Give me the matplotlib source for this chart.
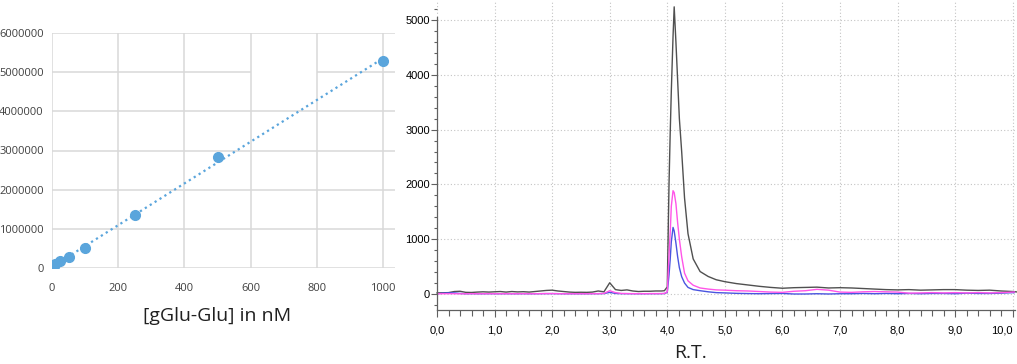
import numpy as np
import matplotlib
matplotlib.use("Agg")
import matplotlib.pyplot as plt
from matplotlib.ticker import MultipleLocator, FuncFormatter

# calibration curve
conc = [0, 1, 5, 10, 25, 50, 100, 250, 500, 1000]
area = [0, 15000, 40000, 100000, 190000, 290000, 510000, 1360000, 2830000, 5290000]

# chromatogram (retention time in min)
rt = [0.0, 0.1, 0.2, 0.3, 0.4, 0.5, 0.6, 0.7, 0.8, 0.9,
      1.0, 1.1, 1.2, 1.3, 1.4, 1.5, 1.6, 1.7, 1.8, 1.9,
      2.0, 2.1, 2.2, 2.3, 2.4, 2.5, 2.6, 2.7, 2.8, 2.9,
      3.0, 3.1, 3.2, 3.3, 3.4, 3.5, 3.6, 3.7, 3.8, 3.9,
      3.95, 4.0, 4.03, 4.05, 4.07, 4.10, 4.12, 4.15, 4.18, 4.21,
      4.25, 4.30, 4.36, 4.45, 4.57, 4.71, 4.85, 5.0,
      5.2, 5.4, 5.6, 5.8, 6.0, 6.2, 6.4, 6.6, 6.8, 7.0,
      7.2, 7.4, 7.6, 7.8, 8.0, 8.2, 8.4, 8.6, 8.8, 9.0,
      9.2, 9.4, 9.6, 9.8, 10.0, 10.1]
trace_black = [20, 22, 25, 45, 50, 30, 28, 35, 40, 35,
               40, 45, 35, 45, 38, 42, 35, 45, 55, 65,
               70, 55, 45, 35, 30, 32, 30, 35, 55, 40,
               205, 80, 65, 75, 55, 45, 50, 50, 55, 55,
               60, 130, 2000, 2900, 3700, 4700, 5240, 4600, 3900, 3200,
               2600, 1750, 1100, 640, 410, 320, 260, 225,
               190, 165, 140, 120, 105, 115, 120, 125, 110, 115,
               110, 100, 90, 80, 75, 80, 70, 75, 80, 80,
               70, 65, 70, 55, 45, 35]
trace_pink = [5, 5, 6, 5, 4, 5, 6, 5, 5, 6,
              5, 5, 6, 5, 5, 6, 5, 5, 6, 8,
              8, 6, 5, 5, 5, 5, 5, 6, 6, 10,
              60, 25, 10, 8, 6, 6, 6, 7, 7, 8,
              10, 40, 700, 1100, 1600, 1885, 1850, 1650, 1300, 1000,
              680, 380, 240, 160, 110, 90, 75, 70,
              60, 55, 45, 35, 30, 50, 60, 85, 70, 35,
              30, 40, 45, 40, 35, 15, 20, 25, 20, 25,
              20, 25, 20, 25, 35, 40]
trace_blue = [5, 15, 20, 20, 10, 5, 6, 5, 5, 6,
              5, 5, 6, 5, 5, 6, 5, 5, 6, 7,
              7, 6, 5, 5, 5, 5, 5, 6, 6, 8,
              30, 10, 6, 6, 5, 5, 5, 6, 6, 6,
              8, 30, 350, 620, 950, 1215, 1150, 930, 680, 480,
              316, 200, 120, 80, 60, 40, 25, 20,
              12, 8, 5, 8, 10, 0, 0, 5, 0, 5,
              5, 10, 5, 10, 5, 10, 5, 10, 10, 5,
              15, 10, 10, 15, 25, 30]
rt_ticks = [0, 1, 2, 3, 4, 5, 6, 7, 8, 9, 10]

W, H = 1017, 364
fig = plt.figure(figsize=(W / 100, H / 100), dpi=100)
sans = ["Open Sans", "DejaVu Sans"]
narrow = ["Liberation Sans Narrow", "DejaVu Sans Condensed", "Liberation Sans"]

# ---- left: calibration curve
ax1 = fig.add_axes([52 / W, 1 - 268 / H, (395 - 52) / W, (268 - 33) / H])
xmax1 = 1036
ax1.set_xlim(0, xmax1)
ax1.set_ylim(0, 6000000)
gcol = "#d9d9d9"
for yv in range(0, 6000001, 1000000):
    if yv == 5000000:
        # gap where the legend box was
        ax1.hlines(yv, 0, 600, color=gcol, lw=1.1, zorder=0)
        ax1.hlines(yv, 800, xmax1, color=gcol, lw=1.1, zorder=0)
    else:
        ax1.hlines(yv, 0, xmax1, color=gcol, lw=1.1, zorder=0)
for xv in range(0, 1001, 200):
    ax1.vlines(xv, 0, 6000000, color=gcol, lw=1.1, zorder=0)

blue_xl = "#5aa5dc"
fit = np.polyfit(conc, area, 1)
ax1.plot([0, 1000], np.polyval(fit, [0, 1000]), ls=(0, (1, 1.6)),
         color=blue_xl, lw=1.6, zorder=2)
ax1.plot(conc, area, "o", color=blue_xl, ms=7, zorder=3)

for s in ax1.spines.values():
    s.set_visible(False)
ax1.set_xticks(range(0, 1001, 200))
ax1.set_yticks(range(0, 6000001, 1000000))
ax1.yaxis.set_major_formatter(FuncFormatter(lambda v, p: f"{int(v)}"))
ax1.tick_params(length=0, labelsize=8, labelcolor="#404040")
ax1.tick_params(axis="x", pad=11)
ax1.tick_params(axis="y", pad=6)
for lab in ax1.get_xticklabels() + ax1.get_yticklabels():
    lab.set_family(sans)
fig.text(217.5 / W, 1 - 316 / H, "[gGlu-Glu] in nM", fontsize=14, family=sans,
         ha="center", va="center", color="#202020")

# ---- right: chromatogram
ymin2 = -292
ax2 = fig.add_axes([437 / W, 1 - 310 / H, (1015 - 437) / W, 310 / H])
ax2.set_xlim(0, 10.04)
ax2.set_ylim(ymin2, 5365)
ax2.grid(True, which="major", ls=(0, (1, 2)), color="#c4c4c4", lw=0.8)
ax2.set_axisbelow(True)
ax2.plot(rt, trace_black, color="#505050", lw=1.0, clip_on=False)
ax2.plot(rt, trace_blue, color="#4a55e0", lw=1.0)
ax2.plot(rt, trace_pink, color="#ff55e8", lw=1.0)

ax2.spines["top"].set_visible(False)
ax2.spines["right"].set_visible(False)
ax2.spines["left"].set_bounds(ymin2, 5060)
for sp in ("left", "bottom"):
    ax2.spines[sp].set_color("#606060")
    ax2.spines[sp].set_linewidth(0.9)
ax2.set_xticks(rt_ticks, [f"{t:.1f}".replace(".", ",") for t in rt_ticks])
ax2.xaxis.set_minor_locator(MultipleLocator(0.2))
ax2.set_yticks(range(0, 5001, 1000))
ax2.yaxis.set_minor_locator(MultipleLocator(200))
ax2.tick_params(which="both", color="#606060", width=0.8)
ax2.tick_params(axis="x", which="major", length=5, pad=6, labelsize=8)
ax2.tick_params(axis="x", which="minor", length=4)
ax2.tick_params(axis="y", which="major", length=4, pad=1, labelsize=8)
ax2.tick_params(axis="y", which="minor", length=2.5)
for tick in ax2.xaxis.get_major_ticks() + ax2.yaxis.get_major_ticks():
    tick.label1.set_family(narrow)
ax2.xaxis.get_major_ticks()[-1].label1.set_horizontalalignment("right")
fig.text(691 / W, 1 - 353 / H, "R.T.", fontsize=14, family=sans,
         ha="center", va="center", color="#202020")

fig.savefig("out.png", dpi=100)
